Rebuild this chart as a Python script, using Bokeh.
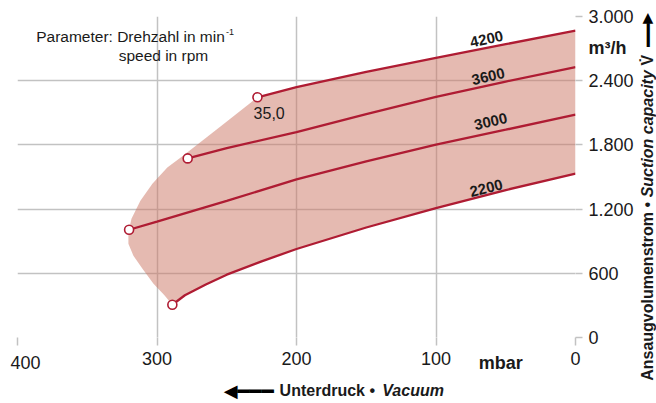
import math
from bokeh.plotting import figure
from bokeh.models import Range1d, FixedTicker, Label
from bokeh.embed import file_html
from bokeh.resources import INLINE

# ---------------- data ----------------
speed_labels = ["4200", "3600", "3000", "2200"]

p4200_mbar = [228, 200, 150, 100, 50, 0]
p4200_flow = [2245, 2340, 2483, 2613, 2741, 2869]

p3600_mbar = [278, 250, 200, 150, 100, 50, 0]
p3600_flow = [1674, 1770, 1920, 2088, 2248, 2392, 2527]

p3000_mbar = [320, 300, 250, 200, 150, 100, 50, 0]
p3000_flow = [1007, 1083, 1277, 1478, 1646, 1802, 1942, 2083]

p2200_mbar = [289, 280, 265, 250, 225, 200, 150, 100, 50, 0]
p2200_flow = [306, 395, 495, 587, 712, 827, 1028, 1210, 1378, 1531]

# left boundary of the operating field (from 2200 start up to 4200 start)
env_mbar = [289, 295, 302.5, 310.4, 316.9, 320.5, 320.5, 318.3, 311.9, 303.3, 292.6, 281.1, 254.5, 228]
env_flow = [306, 400, 503, 643, 764, 876, 979, 1110, 1279, 1438, 1588, 1700, 1971, 2245]

x_ticks = [400, 300, 200, 100, 0]
x_tick_labels = ["400", "300", "200", "100", "0"]
y_ticks = [0, 600, 1200, 1800, 2400, 3000]
y_tick_labels = ["0", "600", "1.200", "1.800", "2.400", "3.000"]
point_label = "35,0"

RED = "#AF1C33"
FILL = "#CB7563"
GRID = "#c2c2c2"
TXT = "#1a1a1a"
FONT = "Liberation Sans"

p = figure(frame_width=558, frame_height=321,
           x_range=Range1d(400, 0), y_range=Range1d(0, 3000),
           y_axis_location="right", title=None,
           output_backend="svg", toolbar_location=None,
           min_border_left=17, min_border_top=16,
           min_border_right=81, min_border_bottom=66)
p.outline_line_color = None
p.background_fill_color = "white"
p.border_fill_color = "white"

# axes
xa = p.xaxis[0]
xa.ticker = FixedTicker(ticks=x_ticks)
ov = {t: l for t, l in zip(x_ticks, x_tick_labels)}
ov[400] = ""
xa.major_label_overrides = ov
xa.axis_line_color = None
xa.major_tick_out = 8
xa.major_tick_in = 0
xa.major_tick_line_color = GRID
xa.major_tick_line_width = 1.5
xa.minor_tick_line_color = None
xa.major_label_standoff = 6
xa.major_label_text_font = FONT
xa.major_label_text_font_size = "18px"
xa.major_label_text_color = TXT

ya = p.yaxis[0]
ya.ticker = FixedTicker(ticks=y_ticks)
ya.major_label_overrides = {t: l for t, l in zip(y_ticks, y_tick_labels)}
ya.axis_line_color = None
ya.major_tick_out = 7
ya.major_tick_in = 0
ya.major_tick_line_color = GRID
ya.major_tick_line_width = 1.5
ya.minor_tick_line_color = None
ya.major_label_standoff = 6
ya.major_label_text_font = FONT
ya.major_label_text_font_size = "18px"
ya.major_label_text_color = TXT

p.xgrid.ticker = FixedTicker(ticks=[t for t in x_ticks if t != 0])
p.ygrid.ticker = FixedTicker(ticks=y_ticks)
for g in (p.xgrid, p.ygrid):
    g.grid_line_color = GRID
    g.grid_line_width = 1.5

# operating field
patch_x = p4200_mbar + p2200_mbar[::-1] + env_mbar
patch_y = p4200_flow + p2200_flow[::-1] + env_flow
p.patch(patch_x, patch_y, fill_color=FILL, fill_alpha=0.5, line_color=None)

series = [(p4200_mbar, p4200_flow), (p3600_mbar, p3600_flow),
          (p3000_mbar, p3000_flow), (p2200_mbar, p2200_flow)]
for mx, fy in series:
    p.line(mx, fy, line_color=RED, line_width=2.3)
p.scatter([s[0][0] for s in series], [s[1][0] for s in series], size=9,
          fill_color="white", line_color=RED, line_width=1.6)


def lab(x, y, text, size, style="normal", align="left", angle=0.0, panel=None,
        font=FONT, color=TXT):
    lb = Label(x=x, y=y, text=text, angle=angle, text_align=align,
               text_baseline="middle", text_font=font, text_font_style=style,
               text_font_size=size, text_color=color)
    if panel is None:
        p.add_layout(lb)
    else:
        p.add_layout(lb, panel)


# curve labels
lab_pos = [(63.7, 2789, 12), (62.6, 2439, 13), (60.8, 2018, 13), (64.0, 1396, 14)]
for txt, (lx, ly, ang) in zip(speed_labels, lab_pos):
    lab(lx, ly, txt, "15px", "bold", "center", math.radians(ang))

lab(219.6, 2095, point_label, "16px", align="center")

# parameter note
lab(386.6, 2814, "Parameter: Drehzahl in min", "15.5px")
lab(250.5, 2852, "-1", "9px")
lab(327.5, 2640, "speed in rpm", "15.5px")

# ---- texts outside the frame: placed in side panels (not clipped) ----
lab(394.3, -234, "400", "18px", align="center", panel="below")
lab(53.6, -234, "mbar", "18px", "bold", "center", panel="below")
lab(-9.3, 2705, "m³/h", "18px", "bold", panel="right")

# x title with arrow (head + shaft drawn as glyph characters)
lab(247.1, -498.6, "◀", "18px", align="center", panel="below", font="DejaVu Sans",
    color="black")
lab(229.3, -498.6, "━━━", "20px", align="center", panel="below",
    font="DejaVu Sans Mono", color="black")
lab(212.1, -495, "Unterdruck •", "16px", "bold", panel="below")
lab(138.5, -495, "Vacuum", "16px", "bold italic", panel="below")

# y title (rotated) with arrow
rot = math.pi / 2
lab(-51.9, -405, "Ansaugvolumenstrom •", "16px", "bold", angle=rot, panel="right")
lab(-51.9, 1310, "Suction capacity", "16px", "bold italic", angle=rot, panel="right")
lab(-51.9, 2541, "V\u0307", "16px", "bold", angle=rot, panel="right")
lab(-51.9, 2827, "┃", "20px", align="center", panel="right",
    font="DejaVu Sans Mono", color="black")
lab(-51.9, 2994, "▲", "14px", align="center", panel="right", font="DejaVu Sans",
    color="black")

open("out.html", "w").write(file_html(p, INLINE))
